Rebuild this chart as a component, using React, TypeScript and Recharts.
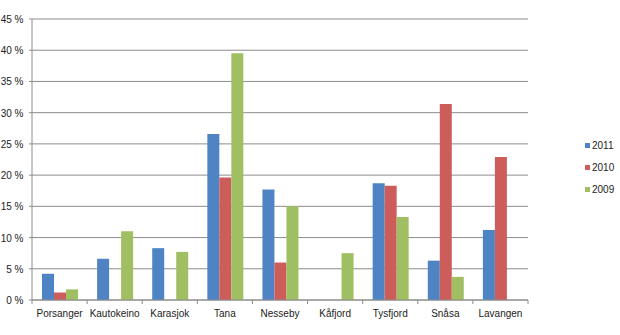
import React from "react";
import { BarChart, Bar, XAxis, YAxis, CartesianGrid, Legend } from "recharts";

const categories = ["Porsanger", "Kautokeino", "Karasjok", "Tana", "Nesseby", "Kåfjord", "Tysfjord", "Snåsa", "Lavangen"];
const v2011 = [4.2, 6.6, 8.3, 26.6, 17.7, 0, 18.7, 6.3, 11.2];
const v2010 = [1.2, 0, 0, 19.6, 6.0, 0, 18.3, 31.4, 22.9];
const v2009 = [1.7, 11.0, 7.7, 39.5, 15.0, 7.5, 13.3, 3.7, 0];
const yTicks = [0, 5, 10, 15, 20, 25, 30, 35, 40, 45];
const seriesNames = ["2011", "2010", "2009"];
const seriesColors = ["#4F84C4", "#CD5D5A", "#A0BF62"];

const data = categories.map((c, i) => ({ name: c, y2011: v2011[i], y2010: v2010[i], y2009: v2009[i] }));

const AXIS = "#8c8c8c";
const FONT = "'Liberation Sans', Arial, sans-serif";

const XTick = (props: any) => {
  const { x, y, payload, index } = props;
  const off = payload.offset ?? 29.5;
  const isLast = index === categories.length - 1;
  return (
    <g>
      <line x1={x - off} x2={x - off} y1={y} y2={y + 4} stroke={AXIS} />
      {isLast && <line x1={x + off} x2={x + off} y1={y} y2={y + 4} stroke={AXIS} />}
      <text x={x} y={y + 16.5} textAnchor="middle" fontSize={10} fill="#222" fontFamily={FONT}>
        {payload.value}
      </text>
    </g>
  );
};

const YTick = (props: any) => {
  const { y, payload } = props;
  return (
    <text x={23.5} y={y + 4} textAnchor="end" fontSize={10} fill="#222" fontFamily={FONT}>
      {`${payload.value} %`}
    </text>
  );
};

const LegendContent = () => (
  <div style={{ fontFamily: FONT, fontSize: 10, color: "#222", whiteSpace: "nowrap" }}>
    {seriesNames.map((n, i) => (
      <div key={n} style={{ height: 22, display: "flex", alignItems: "center" }}>
        <span style={{ display: "inline-block", width: 5, height: 5, background: seriesColors[i], marginRight: 2 }} />
        <span>{n}</span>
      </div>
    ))}
  </div>
);

export default function App() {
  return (
    <div style={{ position: "absolute", left: 0, top: 0, width: 620, height: 335, background: "#fff", overflow: "visible" }}>
      <BarChart
        width={620}
        height={335}
        data={data}
        margin={{ top: 19, right: 57, bottom: 0, left: 0 }}
        barGap={0}
        barCategoryGap={10}
        style={{ overflow: "visible" }}
      >
        <CartesianGrid vertical={false} stroke={AXIS} strokeWidth={1} />
        <XAxis
          dataKey="name"
          height={35}
          stroke={AXIS}
          tickLine={false}
          tickSize={0}
          tickMargin={0}
          tick={<XTick />}
          interval={0}
        />
        <YAxis
          width={32}
          domain={[0, 45]}
          ticks={yTicks}
          stroke={AXIS}
          tickSize={3}
          tickMargin={6}
          tick={<YTick />}
          interval={0}
        />
        <Legend
          layout="vertical"
          align="right"
          verticalAlign="top"
          content={<LegendContent />}
          wrapperStyle={{ left: 585, top: 134, width: 35 }}
        />
        <Bar dataKey="y2011" name="2011" fill={seriesColors[0]} isAnimationActive={false} />
        <Bar dataKey="y2010" name="2010" fill={seriesColors[1]} isAnimationActive={false} />
        <Bar dataKey="y2009" name="2009" fill={seriesColors[2]} isAnimationActive={false} />
      </BarChart>
    </div>
  );
}
